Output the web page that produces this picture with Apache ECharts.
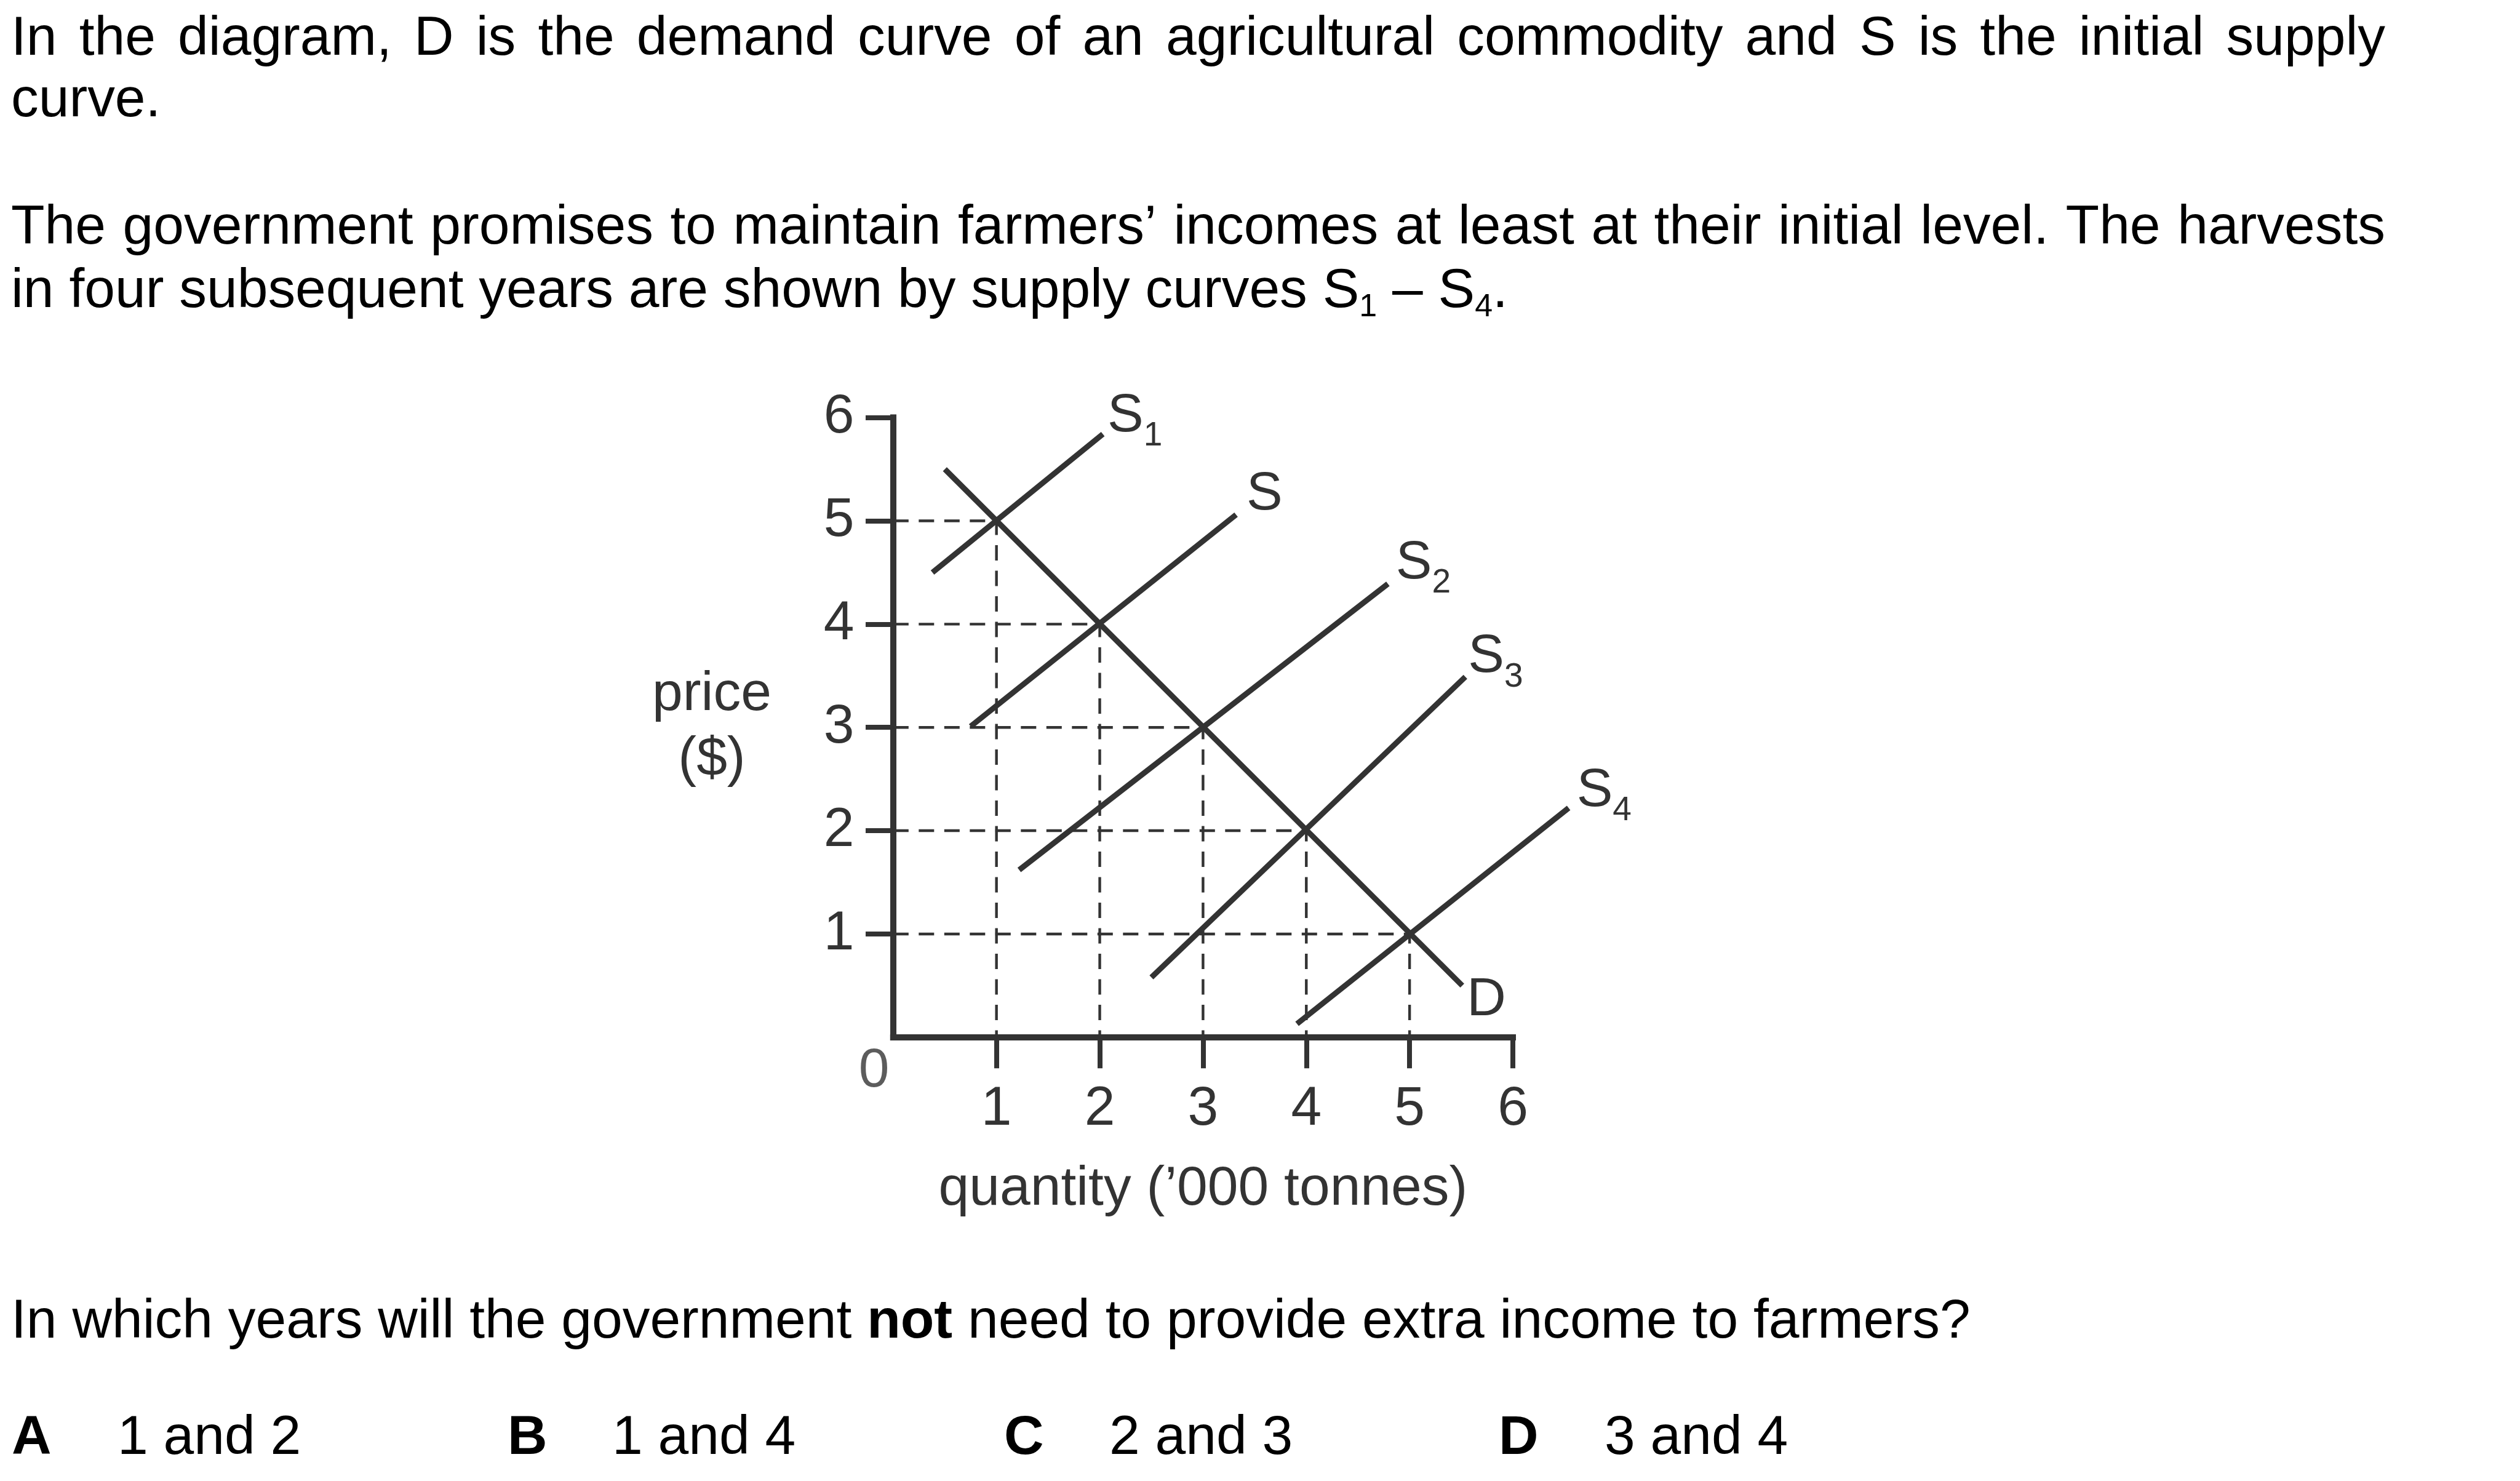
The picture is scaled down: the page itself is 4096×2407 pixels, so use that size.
<!DOCTYPE html>
<html>
<head>
<meta charset="utf-8">
<script src="https://cdn.jsdelivr.net/npm/echarts@6/dist/echarts.min.js"></script>
<style>
html,body{margin:0;padding:0;background:#ffffff;}
#chart{width:4096px;height:2407px;}
</style>
</head>
<body>
<div id="chart"></div>
<script>
// ---------------- DATA ----------------
const demandD   = [[0.50, 5.50], [5.51, 0.50]];
const supplyS1  = [[0.38, 4.50], [2.03, 5.84]];
const supplyS   = [[0.75, 3.01], [3.32, 5.06]];
const supplyS2  = [[1.22, 1.62], [4.79, 4.39]];
const supplyS3  = [[2.50, 0.58], [5.54, 3.49]];
const supplyS4  = [[3.91, 0.13], [6.54, 2.22]];
const eqQuantity = [1, 2, 3, 4, 5];
const eqPrice    = [5, 4, 3, 2, 1];
const tickValues = [1, 2, 3, 4, 5, 6];
const originLabel = '0';
const xAxisTitle = 'quantity (’000 tonnes)';
const yAxisTitle = 'price\n($)';
const introLine1 = 'In the diagram, D is the demand curve of an agricultural commodity and S is the initial supply';
const introLine2 = 'curve.';
const introLine3 = 'The government promises to maintain farmers’ incomes at least at their initial level. The harvests';
const introLine4Parts = ['in four subsequent years are shown by supply curves S', '1', ' – S', '4', '.'];
const questionParts = ['In which years will the government ', 'not', ' need to provide extra income to farmers?'];
const answerLetters = ['A', 'B', 'C', 'D'];
const answerTexts = ['1 and 2', '1 and 4', '2 and 3', '3 and 4'];

// ---------------- STYLE / LAYOUT ----------------
const FAM = '"Liberation Sans", Arial, Helvetica, sans-serif';
const FS = 89.4;
const INK = '#333333';
const TXT = '#000000';
const MIDK = 0.2757;          // canvas "middle" baseline offset (em) for Liberation Sans
const GRID = {left: 1451.8, top: 678.6, width: 1007.2, height: 1007.2};
const TEXT_LEFT = 18;
const TEXT_RIGHT = 3877;
const baselines = {l1: 88.7, l2: 189.2, l3: 395.8, l4: 498.7, q: 2174, a: 2363};
const letterX = [19, 825, 1632, 2436];
const answerX = [191, 995, 1803, 2608];

const measureCtx = document.createElement('canvas').getContext('2d');
function measure(t, fs, weight) {
  measureCtx.font = (weight || 'normal') + ' ' + fs + 'px "Liberation Sans"';
  return measureCtx.measureText(t).width;
}
function textEl(x, baseline, text, fs, weight, color) {
  return {
    type: 'text', x: x, y: baseline - MIDK * fs, silent: true, z: 10,
    style: {text: text, fontSize: fs, fontFamily: FAM, fontWeight: weight || 'normal',
            fill: color || TXT, align: 'left', verticalAlign: 'middle'}
  };
}
function justified(line, baseline) {
  const words = line.split(' ');
  const widths = words.map(w => measure(w, FS));
  const total = widths.reduce((a, b) => a + b, 0);
  const gap = (TEXT_RIGHT - TEXT_LEFT - total) / (words.length - 1);
  const els = [];
  let x = TEXT_LEFT;
  words.forEach((w, i) => { els.push(textEl(x, baseline, w, FS)); x += widths[i] + gap; });
  return els;
}

const graphics = [];
graphics.push(...justified(introLine1, baselines.l1));
graphics.push(textEl(TEXT_LEFT, baselines.l2, introLine2, FS));
graphics.push(...justified(introLine3, baselines.l3));
graphics.push({
  type: 'text', x: TEXT_LEFT, y: baselines.l4 - MIDK * FS, silent: true, z: 10,
  style: {
    text: '{n|' + introLine4Parts[0] + '}{sub|' + introLine4Parts[1] + '}{n|' + introLine4Parts[2] +
          '}{sub|' + introLine4Parts[3] + '}{n|' + introLine4Parts[4] + '}',
    fill: TXT, align: 'left', verticalAlign: 'middle', fontSize: FS, fontFamily: FAM,
    rich: {
      n: {fontSize: FS, fontFamily: FAM, lineHeight: FS},
      sub: {fontSize: 52, fontFamily: FAM, lineHeight: 37.6, height: 37.6, verticalAlign: 'bottom'}
    }
  }
});
graphics.push({
  type: 'text', x: TEXT_LEFT, y: baselines.q - MIDK * FS, silent: true, z: 10,
  style: {
    text: '{n|' + questionParts[0] + '}{b|' + questionParts[1] + '}{n|' + questionParts[2] + '}',
    fill: TXT, align: 'left', verticalAlign: 'middle', fontSize: FS, fontFamily: FAM,
    rich: {
      n: {fontSize: FS, fontFamily: FAM, lineHeight: FS},
      b: {fontSize: FS, fontFamily: FAM, fontWeight: 'bold', lineHeight: FS}
    }
  }
});
answerLetters.forEach((L, i) => {
  graphics.push(textEl(letterX[i], baselines.a, L, FS, 'bold'));
  graphics.push(textEl(answerX[i], baselines.a, answerTexts[i], FS));
});

// ---------------- SERIES ----------------
const subRich = {
  s: {fontSize: 88, lineHeight: 88, fontFamily: FAM, color: INK},
  b: {fontSize: 55, lineHeight: 23, height: 23, verticalAlign: 'bottom', fontFamily: FAM, color: INK}
};
function curve(name, pts, formatter, offset, axisIdx) {
  return {
    type: 'line', name: name, clip: false, silent: true, z: 5,
    xAxisIndex: axisIdx || 0, yAxisIndex: axisIdx || 0,
    symbol: 'circle', symbolSize: 1, showSymbol: true,
    itemStyle: {color: 'rgba(0,0,0,0)'},
    lineStyle: {color: INK, width: 9},
    label: {show: false},
    data: pts.map((p, i) => i === pts.length - 1 ? {
      value: p,
      label: {show: true, position: 'right', distance: 0, offset: offset, formatter: formatter,
              color: INK, fontSize: 88, fontFamily: FAM, lineHeight: 88, rich: subRich}
    } : {value: p})
  };
}
const series = [];
eqQuantity.forEach((q, i) => {
  series.push({
    type: 'line', silent: true, z: 2, symbol: 'none', clip: false,
    lineStyle: {color: INK, width: 4.4, type: [25, 16.5]},
    data: [[0, eqPrice[i]], [q, eqPrice[i]], [q, 0]]
  });
});
series.push(curve('D', demandD, 'D', [7.1, 23.6]));
series.push(curve('S1', supplyS1, '{s|S}{b|1}', [7.0, -28.7]));
series.push(curve('S', supplyS, '{s|S}', [16.3, -32.3]));
series.push(curve('S2', supplyS2, '{s|S}{b|2}', [12.4, -33.2]));
series.push(curve('S3', supplyS3, '{s|S}{b|3}', [4.0, -32.0]));
// S4 runs past the end of the drawn quantity axis: it is placed on a twin grid whose hidden
// x axis spans 0–7 with exactly the same pixel scale, so the line is not clipped at q = 6.
series.push(curve('S4', supplyS4, '{s|S}{b|4}', [12.5, -27.6], 1));
series.push({
  type: 'scatter', silent: true, clip: false, symbolSize: 1,
  itemStyle: {color: 'rgba(0,0,0,0)'},
  label: {show: true, position: 'inside', offset: [-31.2, 56], formatter: originLabel,
          color: INK, fontSize: FS, fontFamily: FAM},
  data: [[0, 0]]
});

const axisCommon = {
  type: 'value', min: 0, max: 6, interval: 1,
  splitLine: {show: false},
  axisLine: {show: true, onZero: false, lineStyle: {color: INK, width: 10, cap: 'square'}},
  nameMoveOverlap: false
};

const option = {
  animation: false,
  backgroundColor: '#ffffff',
  grid: [
    Object.assign({outerBoundsMode: 'none', containLabel: false}, GRID),
    {outerBoundsMode: 'none', containLabel: false, left: GRID.left, top: GRID.top,
     width: GRID.width * 7 / 6, height: GRID.height}
  ],
  xAxis: [
    Object.assign({}, axisCommon, {
      gridIndex: 0,
      axisTick: {show: true, customValues: tickValues, length: 50.5, lineStyle: {color: INK, width: 8}},
      axisLabel: {customValues: tickValues, margin: 117.1, verticalAlign: 'middle', align: 'center',
                  color: INK, fontSize: FS, fontFamily: FAM, lineHeight: FS},
      name: xAxisTitle, nameLocation: 'middle', nameGap: 247.4,
      nameTextStyle: {fontSize: FS, fontFamily: FAM, color: INK, verticalAlign: 'middle', align: 'center', lineHeight: FS}
    }),
    {type: 'value', gridIndex: 1, min: 0, max: 7, show: false, splitLine: {show: false}}
  ],
  yAxis: [
    Object.assign({}, axisCommon, {
      gridIndex: 0,
      axisTick: {show: true, customValues: tickValues, length: 44.8, lineStyle: {color: INK, width: 8}},
      axisLabel: {customValues: tickValues, margin: 63.4, align: 'right', verticalAlign: 'middle',
                  padding: [11, 0, 0, 0],
                  color: INK, fontSize: FS, fontFamily: FAM, lineHeight: FS},
      name: yAxisTitle, nameLocation: 'middle', nameRotate: 0, nameGap: 294.8,
      nameTextStyle: {fontSize: FS, fontFamily: FAM, color: INK, align: 'center', verticalAlign: 'middle',
                      lineHeight: 106, padding: [0, 0, 20, 0]}
    }),
    {type: 'value', gridIndex: 1, min: 0, max: 6, show: false, splitLine: {show: false}}
  ],
  series: series,
  graphic: {elements: graphics}
};

const chart = echarts.init(document.getElementById('chart'), null, {renderer: 'canvas', width: 4096, height: 2407});
chart.setOption(option);
</script>
</body>
</html>
